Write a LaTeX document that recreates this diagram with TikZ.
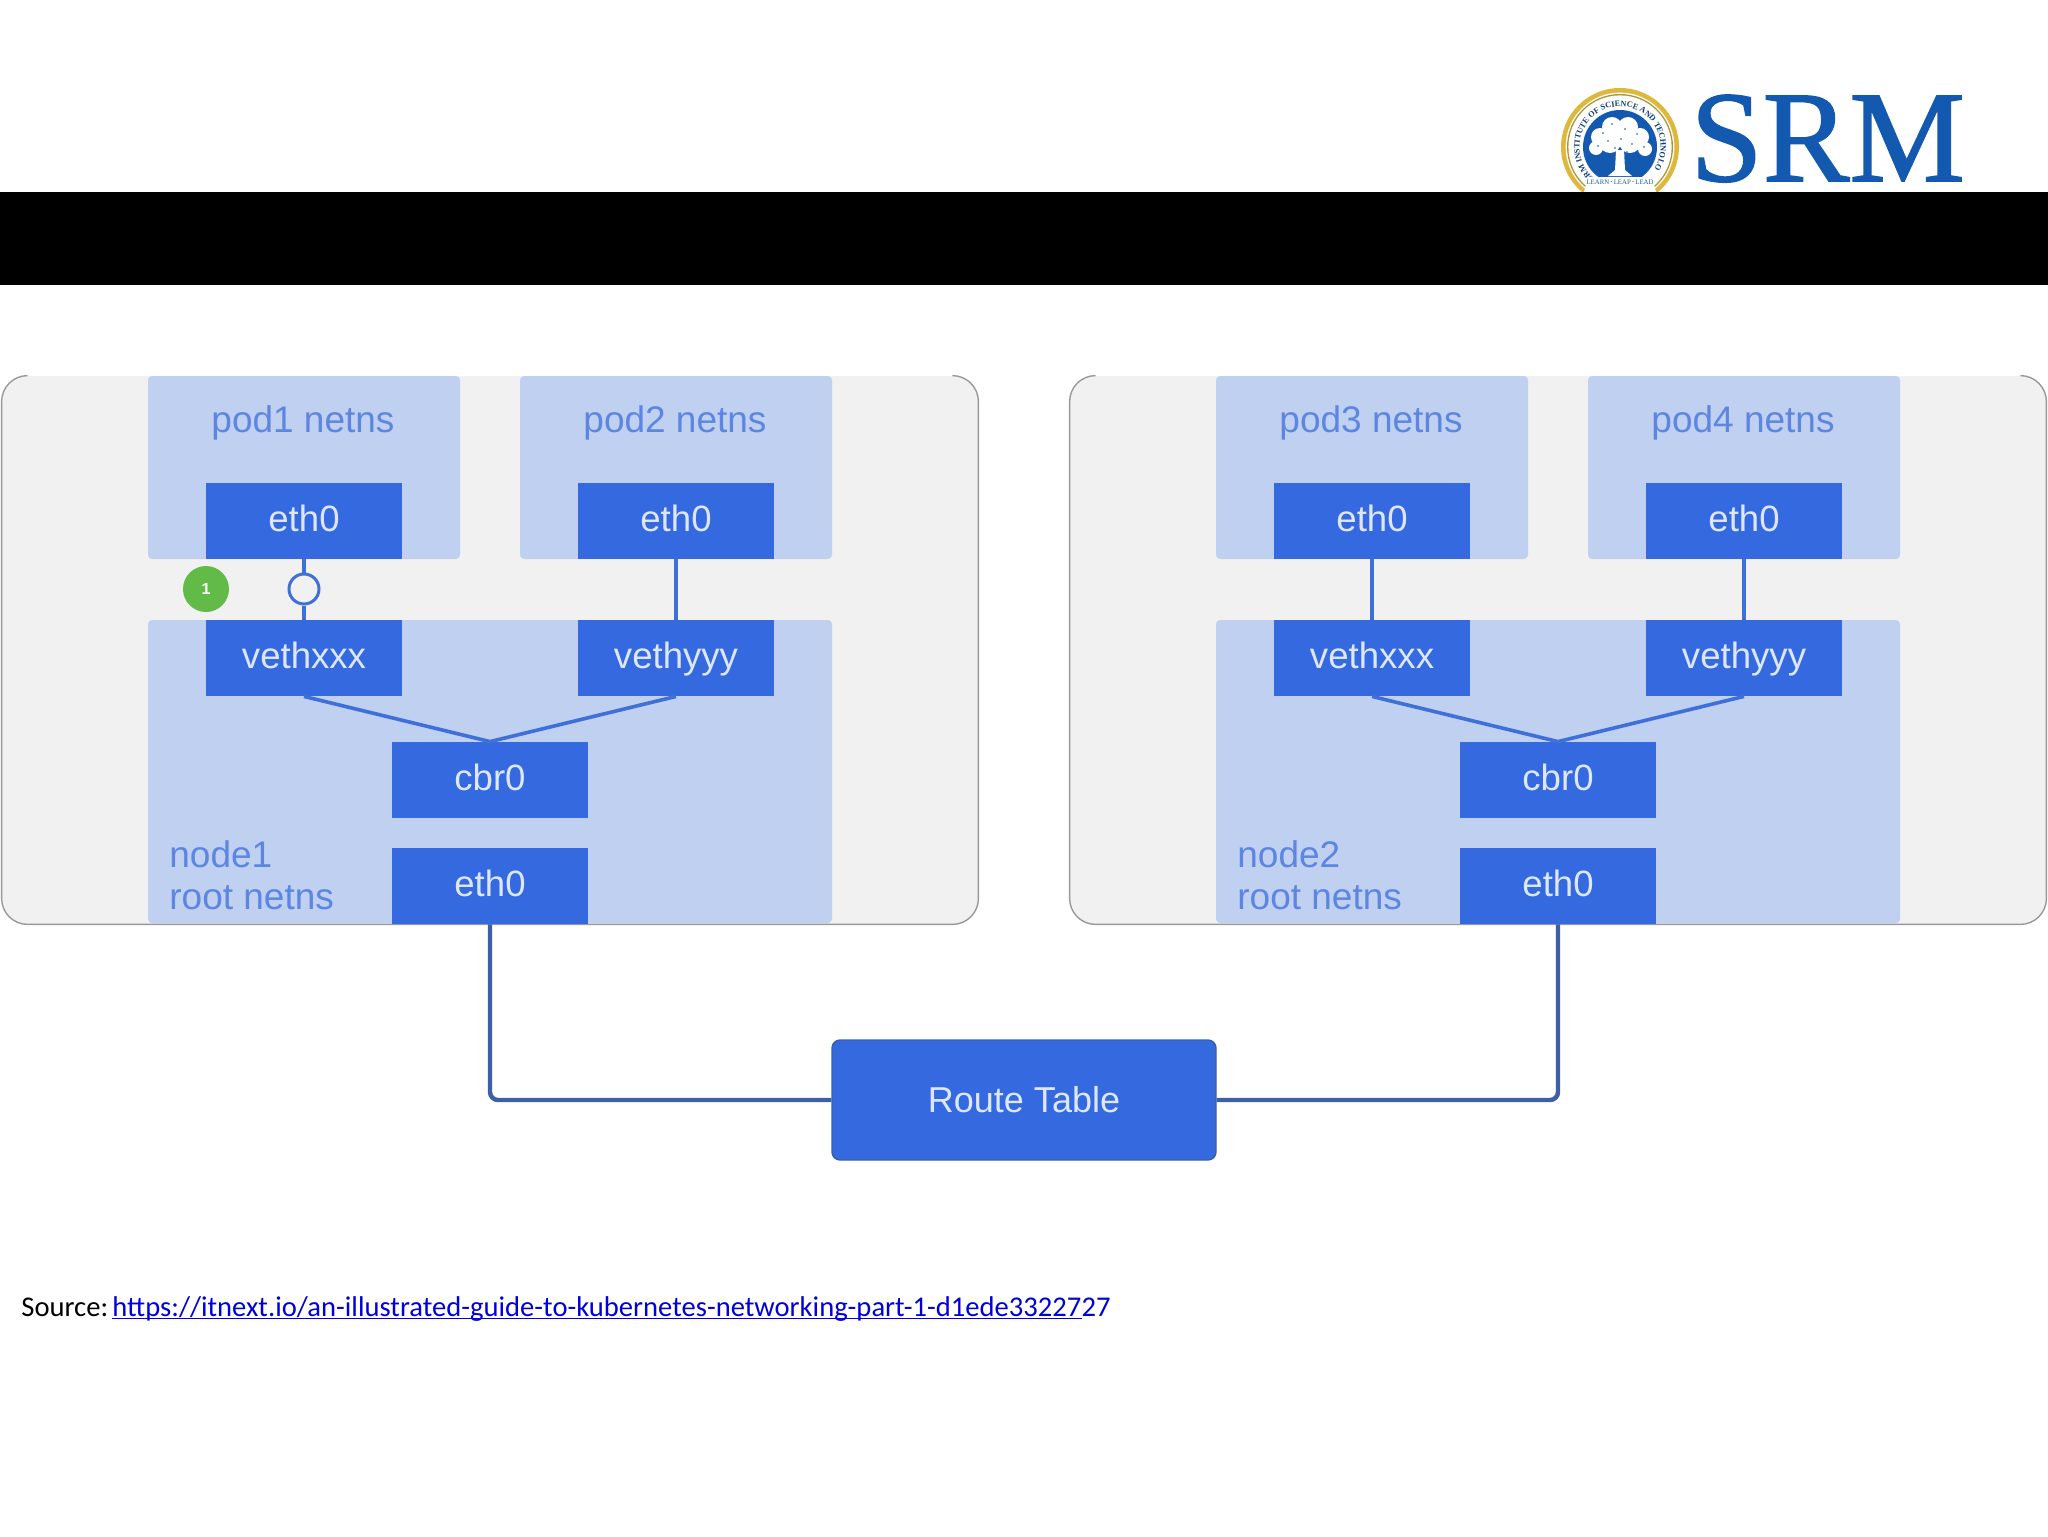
\documentclass[tikz,border=0pt]{standalone}
\usepackage{fontspec}
\setmainfont{Liberation Sans}
\newfontfamily\sourcefont{Carlito}
\newfontfamily\logofont{Liberation Serif}
\newfontfamily\srmfont[FakeBold=1.2]{Liberation Serif}
\usetikzlibrary{decorations.text}

\definecolor{panelgray}{HTML}{F1F1F1}
\definecolor{paleblue}{HTML}{BFD0F0}
\definecolor{boxblue}{HTML}{3569E0}
\definecolor{boxtext}{HTML}{DDE7FB}
\definecolor{labelblue}{HTML}{5C86E2}
\definecolor{wireblue}{HTML}{3F6FD8}
\definecolor{trunkblue}{HTML}{3E5FA8}
\definecolor{srmblue}{HTML}{1459B0}
\definecolor{sealgold}{HTML}{DDB83C}
\definecolor{stepgreen}{HTML}{62BB46}

\begin{document}
\begin{tikzpicture}[x=.5pt,y=-.5pt,node distance=68.5pt]
        \tikzstyle{panel}=[rectangle,fill=panelgray,rounded corners=13pt,minimum width=488pt,minimum height=274pt,inner sep=0pt]
        \tikzstyle{paneledge}=[draw=black!40,line width=.7pt,rounded corners=13pt]
        \tikzstyle{netns}=[rectangle,fill=paleblue,rounded corners=2pt,inner sep=0pt]
        \tikzstyle{netbox}=[rectangle,fill=boxblue,text=boxtext,font=\fontsize{18.3}{20}\selectfont,text height=13pt,text depth=3pt,minimum width=98pt,minimum height=38pt,inner sep=0pt]
        \tikzstyle{netlabel}=[text=labelblue,font=\fontsize{18.5}{21}\selectfont,inner sep=0pt]
        \tikzstyle{wire}=[draw=wireblue,line width=1.8pt]
        \tikzstyle{uplink}=[draw=trunkblue,line width=2.2pt,rounded corners=4pt]
        \tikzstyle{portring}=[circle,draw=wireblue,line width=1.5pt,fill=panelgray,minimum size=15pt,inner sep=0pt]

        \useasboundingbox (0,0) rectangle (2048,1536);

        % logo
        \coordinate (seal) at (1620,147);
        \fill [sealgold] (seal) circle [radius=29.5pt];
        \fill [white] (seal) circle [radius=27.2pt];
        \fill [sealgold!80!black] (seal) circle [radius=26.5pt];
        \fill [white] (seal) circle [radius=25.8pt];
        \fill [srmblue] (seal) circle [radius=18.5pt];
        \path [decorate,decoration={text along path,text align=center,text color=srmblue!70!black,
            text={|\fontsize{4.1}{5}\selectfont\logofont\bfseries|SRM INSTITUTE OF SCIENCE AND TECHNOLOGY}}]
            ([shift={(215:20.3pt)}]seal) arc [start angle=215,end angle=-35,radius=20.3pt];
        \foreach \bx/\by/\br in {1600/137/9,1612/127/10,1628/127/10,1640/137/9,1596/148/7,1610/142/11,1630/142/11,1645/149/7,1620/134/12}
            \fill [white] (\bx,\by) circle [radius=\br*.5pt];
        \foreach \dx/\dy in {1603/133,1612/124,1625/129,1637/134,1598/146,1608/141,1621/139,1632/144,1644/147,1615/148,1627/152}
            \fill [srmblue!70] (\dx,\dy) circle [radius=.6pt];
        \fill [white] (1616,150) -- (1624,150) -- (1625,170) -- (1632,176) -- (1608,176) -- (1615,170) -- cycle;
        \fill [white] (1588,177) -- (1652,177) -- (1656,192) -- (1584,192) -- cycle;
        \node [inner sep=0pt,text=srmblue,font=\fontsize{3.4}{4}\selectfont\logofont] (motto) at (1620,182) {LEARN$\cdot$LEAP$\cdot$LEAD};
        \node [inner sep=0pt,text=srmblue,font=\fontsize{65}{70}\selectfont\srmfont,anchor=base west] (srm) at (1690,181) {SRM};

        % title bar
        \fill [black] (0,192) rectangle (2048,285);

        % left node
        \node [panel] (panelA) at (490,650) {};
        \node [netns,minimum width=156pt,minimum height=91.5pt] (podboxA) at (304,467.5) {};
        \node [netns,minimum width=156pt,minimum height=91.5pt] (podboxB) at (676,467.5) {};
        \node [netns,minimum width=342pt,minimum height=151.5pt] (rootA) at (490,771.5) {};
        \draw [paneledge] ([xshift=13pt]panelA.north west) -| (panelA.south west) -| (panelA.north east) -- ([xshift=-13pt]panelA.north east);
        \node [netlabel] (podlabelA) at (303,423) {pod1 netns};
        \node [netlabel] (podlabelB) at (675,423) {pod2 netns};
        \node [netbox] (ethA) at (304,521) {eth0};
        \node [netbox] (ethB) at (676,521) {eth0};
        \node [netbox] (vethxxxA) [below of=ethA] {vethxxx};
        \node [netbox] (vethyyyA) [below of=ethB] {vethyyy}
            edge [wire] (ethB);
        \node [netbox] (cbrA) at (490,780) {cbr0};
        \node [netbox] (ethrootA) [below of=cbrA,node distance=53pt] {eth0};
        \node [netlabel,align=left,anchor=west] (rootlabelA) at (169,875) {node1\\root netns};
        \node [portring] (portA) at (304,589) {}; %hollow port
        \node [circle,fill=stepgreen,text=white,font=\fontsize{8}{9}\selectfont\bfseries,minimum size=23pt,inner sep=0pt] (stepA) at (206,589) {1};
        \draw [wire] (ethA) -- (portA) -- (vethxxxA);
        \draw [wire] (vethxxxA.south) -- (cbrA.north);
        \draw [wire] (vethyyyA.south) -- (cbrA.north);

        % right node
        \node [panel] (panelB) at (1558,650) {};
        \node [netns,minimum width=156pt,minimum height=91.5pt] (podboxC) at (1372,467.5) {};
        \node [netns,minimum width=156pt,minimum height=91.5pt] (podboxD) at (1744,467.5) {};
        \node [netns,minimum width=342pt,minimum height=151.5pt] (rootB) at (1558,771.5) {};
        \draw [paneledge] ([xshift=13pt]panelB.north west) -| (panelB.south west) -| (panelB.north east) -- ([xshift=-13pt]panelB.north east);
        \node [netlabel] (podlabelC) at (1371,423) {pod3 netns};
        \node [netlabel] (podlabelD) at (1743,423) {pod4 netns};
        \node [netbox] (ethC) at (1372,521) {eth0};
        \node [netbox] (ethD) at (1744,521) {eth0};
        \node [netbox] (vethxxxB) [below of=ethC] {vethxxx}
            edge [wire] (ethC);
        \node [netbox] (vethyyyB) [below of=ethD] {vethyyy}
            edge [wire] (ethD);
        \node [netbox] (cbrB) at (1558,780) {cbr0};
        \node [netbox] (ethrootB) [below of=cbrB,node distance=53pt] {eth0};
        \node [netlabel,align=left,anchor=west] (rootlabelB) at (1237,875) {node2\\root netns};
        \draw [wire] (vethxxxB.south) -- (cbrB.north);
        \draw [wire] (vethyyyB.south) -- (cbrB.north);

        % route table
        \node [rectangle,draw=trunkblue,line width=.7pt,fill=boxblue,text=boxtext,rounded corners=4pt,font=\fontsize{18}{20}\selectfont,minimum width=192pt,minimum height=60pt,inner sep=0pt] (route) at (1024,1100) {Route Table};
        \draw [uplink] (ethrootA.south) |- (route.west);
        \draw [uplink] (ethrootB.south) |- (route.east);

        % source line
        \node [inner sep=0pt,anchor=base west,font=\fontsize{14.3}{18}\selectfont\sourcefont] (source) at (21,1316) {Source:};
        \node [inner sep=0pt,anchor=base west,text=blue!85!black,font=\fontsize{14.3}{18}\selectfont\sourcefont] (link) at (112,1316) {\underline{\smash{https://itnext.io/an-illustrated-guide-to-kubernetes-networking-part-1-d1ede33227}}27};
    \end{tikzpicture}
\end{document}
